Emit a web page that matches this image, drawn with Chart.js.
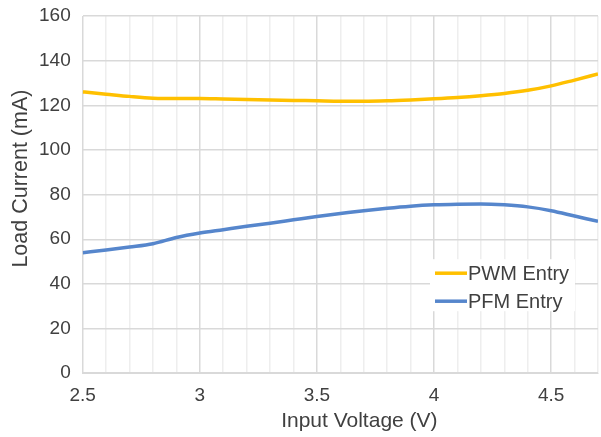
<!DOCTYPE html>
<html>
<head>
<meta charset="utf-8">
<script src="https://cdn.jsdelivr.net/npm/chart.js@4"></script>
<style>
  html, body { margin: 0; padding: 0; background: #fff; }
  #wrap { width: 601px; height: 437px; }
</style>
</head>
<body>
<div id="wrap"><canvas id="loadChart"></canvas></div>
<script>
const voltage = [2.5, 2.6, 2.7, 2.8, 2.9, 3.0, 3.1, 3.2, 3.3, 3.4, 3.5, 3.6,
  3.7, 3.8, 3.9, 4.0, 4.1, 4.2, 4.3, 4.4, 4.5, 4.6, 4.7];
const pwmEntry = [126, 125, 124, 123.2, 123, 123, 122.8, 122.6, 122.4, 122.2, 122, 121.8,
  121.8, 122, 122.4, 122.9, 123.5, 124.3, 125.3, 126.7, 128.7, 131.3, 134];
const pfmEntry = [54, 55.2, 56.5, 58, 60.8, 62.8, 64.3, 65.8, 67.2, 68.7, 70.2, 71.5,
  72.8, 73.9, 74.8, 75.4, 75.7, 75.8, 75.4, 74.5, 72.8, 70.4, 68];
const xTitle = 'Input Voltage (V)';
const yTitle = 'Load Current (mA)';

const textColor = '#404040';
const family = 'Liberation Sans, Arial, sans-serif';
const tickFont = { family: family, size: 19 };

function points(ys) {
  return voltage.map((x, i) => ({ x: x, y: ys[i] }));
}

// axis titles sit a bit off-centre in the original, so draw them here
const axisTitles = {
  id: 'axisTitles',
  afterDraw(chart) {
    const ctx = chart.ctx;
    const area = chart.chartArea;
    ctx.save();
    ctx.fillStyle = textColor;
    ctx.textAlign = 'center';
    ctx.textBaseline = 'middle';
    ctx.font = '21px ' + family;
    ctx.fillText(xTitle, (area.left + area.right) / 2 + 19, area.bottom + 48);
    ctx.font = '21.5px ' + family;
    ctx.translate(21, (area.top + area.bottom) / 2 - 16);
    ctx.rotate(-Math.PI / 2);
    ctx.fillText(yTitle, 0, 0);
    ctx.restore();
  },
};

// legend drawn inside the plot area, lower right
const innerLegend = {
  id: 'innerLegend',
  afterDatasetsDraw(chart) {
    const ctx = chart.ctx;
    const area = chart.chartArea;
    const boxX = area.right - 168;
    const boxY = area.bottom - 114;
    ctx.save();
    ctx.fillStyle = '#fff';
    ctx.fillRect(boxX, boxY, 145, 52);
    ctx.font = '20px ' + family;
    ctx.textBaseline = 'middle';
    chart.data.datasets.forEach((ds, i) => {
      const y = boxY + 14 + i * 28;
      ctx.strokeStyle = ds.borderColor;
      ctx.lineWidth = 3.5;
      ctx.beginPath();
      ctx.moveTo(boxX + 5, y);
      ctx.lineTo(boxX + 37, y);
      ctx.stroke();
      ctx.fillStyle = textColor;
      ctx.fillText(ds.label, boxX + 38, y + 1);
    });
    ctx.restore();
  },
};

function main() {
  const ctx = document.getElementById('loadChart');
  new Chart(ctx, {
    type: 'line',
    data: {
      datasets: [
        { label: 'PWM Entry', data: points(pwmEntry), borderColor: '#FFC000' },
        { label: 'PFM Entry', data: points(pfmEntry), borderColor: '#5686CC' },
      ],
    },
    options: {
      responsive: true,
      maintainAspectRatio: false,
      animation: false,
      layout: { padding: { top: 0, right: 0, left: 27, bottom: 19 } },
      elements: {
        point: { radius: 0 },
        line: { borderWidth: 3.5, cubicInterpolationMode: 'monotone' },
      },
      plugins: {
        legend: { display: false },
        tooltip: { enabled: false },
      },
      scales: {
        x: {
          type: 'linear',
          min: 2.5,
          max: 4.7,
          border: { color: '#d9d9d9' },
          grid: {
            drawTicks: false,
            color: (c) => (Math.round(c.tick.value * 10) % 5 === 0 ? '#d9d9d9' : '#eeeeee'),
            lineWidth: 1.5,
          },
          ticks: {
            stepSize: 0.1,
            autoSkip: false,
            maxRotation: 0,
            padding: 11,
            color: textColor,
            font: tickFont,
            callback: (v) => (Math.round(v * 10) % 5 === 0 ? String(Math.round(v * 10) / 10) : ''),
          },
          afterFit: (s) => { s.paddingLeft = 0; s.paddingRight = 3; },
        },
        y: {
          min: 0,
          max: 160,
          border: { color: '#d9d9d9' },
          grid: { drawTicks: false, color: '#d9d9d9', lineWidth: 1.5 },
          ticks: { stepSize: 20, padding: 12, color: textColor, font: tickFont },
          afterFit: (s) => { s.paddingTop = 16; s.paddingBottom = 0; },
        },
      },
    },
    plugins: [innerLegend, axisTitles],
  });
}

main();
</script>
</body>
</html>
